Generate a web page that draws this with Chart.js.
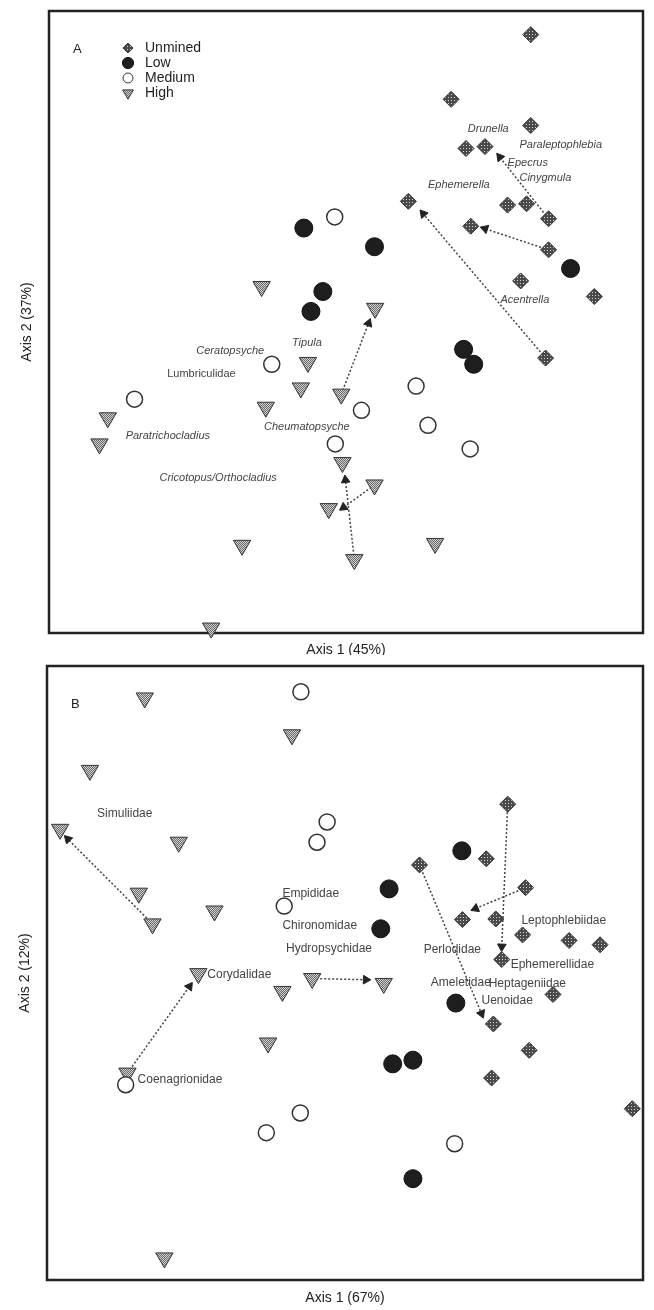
<!DOCTYPE html>
<html>
<head>
<meta charset="utf-8">
<script src="https://cdn.jsdelivr.net/npm/chart.js@4.4.0/dist/chart.umd.min.js"></script>
<style>
  body { margin: 0; background: #fff; }
  #wrap { position: relative; width: 654px; height: 1310px; background: #fff; }
  canvas { position: absolute; left: 0; }
  #panel-a { top: 0; }
  #panel-b { top: 655px; }
</style>
</head>
<body>
<div id="wrap">
  <canvas id="panel-a" width="654" height="655"></canvas>
  <canvas id="panel-b" width="654" height="655"></canvas>
</div>
<script>
// ordination scores (both axes scaled 0-100 over the frame)
const unminedA = [[81.1, 96.2], [67.7, 85.8], [81.1, 81.6], [70.2, 77.9], [73.4, 78.2], [60.5, 69.4], [77.2, 68.8], [80.4, 69.0], [84.1, 66.6], [71.0, 65.4], [84.1, 61.6], [79.4, 56.6], [91.8, 54.1], [83.6, 44.2]];
const lowA = [[42.9, 65.1], [46.1, 54.9], [44.1, 51.7], [54.8, 62.1], [87.8, 58.6], [69.8, 45.6], [71.5, 43.2]];
const mediumA = [[48.1, 66.9], [14.4, 37.6], [37.5, 43.2], [48.2, 30.4], [52.6, 35.8], [61.8, 39.7], [63.8, 33.4], [70.9, 29.6]];
const highA = [[35.8, 55.7], [54.9, 52.2], [43.6, 43.5], [42.4, 39.4], [36.5, 36.3], [49.2, 38.4], [49.4, 27.4], [54.8, 23.8], [47.1, 20.0], [51.4, 11.8], [32.5, 14.1], [9.9, 34.6], [8.5, 30.4], [27.3, 0.8], [65.0, 14.4]];
// arrows: [fromX, fromY, toX, toY]
const arrowsA = [[84.1, 66.6, 75.9, 76.5], [84.1, 61.6, 73.4, 65.0], [83.6, 44.2, 63.0, 67.4], [49.2, 38.4, 53.8, 49.8], [51.4, 11.8, 49.9, 24.6], [54.8, 23.8, 49.6, 20.2]];
const taxaA = ["Drunella", "Paraleptophlebia", "Epecrus", "Cinygmula", "Ephemerella", "Acentrella", "Tipula", "Ceratopsyche", "Lumbriculidae", "Paratrichocladius", "Cheumatopsyche", "Cricotopus/Orthocladius"];
const taxaAPos = [[70.5, 81.0], [79.2, 78.4], [77.2, 75.5], [79.2, 73.1], [63.8, 72.0], [76.0, 53.6], [40.9, 46.6], [24.8, 45.3], [19.9, 41.6], [12.9, 31.7], [36.2, 33.1], [18.6, 25.0]];
const taxaAItalic = [true, true, true, true, true, true, true, true, false, true, true, true];

const unminedB = [[77.3, 77.5], [73.7, 68.6], [62.5, 67.6], [80.3, 63.9], [69.7, 58.7], [75.3, 58.8], [79.8, 56.2], [87.6, 55.3], [92.8, 54.6], [76.3, 52.2], [84.9, 46.5], [74.9, 41.7], [80.9, 37.4], [74.6, 32.9], [98.2, 27.9]];
const lowB = [[69.6, 69.9], [57.4, 63.7], [56.0, 57.2], [68.6, 45.1], [58.0, 35.2], [61.4, 35.8], [61.4, 16.5]];
const mediumB = [[42.6, 95.8], [47.0, 74.6], [45.3, 71.3], [39.8, 60.9], [13.2, 31.8], [42.5, 27.2], [36.8, 24.0], [68.4, 22.2]];
const highB = [[16.4, 94.8], [41.1, 88.8], [7.2, 83.0], [2.2, 73.4], [22.1, 71.3], [15.4, 63.0], [17.7, 58.0], [28.1, 60.1], [25.4, 49.9], [39.5, 47.0], [44.5, 49.1], [56.5, 48.3], [37.1, 38.6], [13.5, 33.7], [19.7, 3.6]];
const arrowsB = [[17.7, 58.0, 3.5, 71.8], [13.5, 33.7, 23.9, 47.8], [44.5, 49.1, 53.5, 48.9], [77.3, 77.5, 76.3, 54.3], [80.3, 63.9, 71.9, 60.5], [62.5, 67.6, 72.9, 43.4]];
const taxaB = ["Simuliidae", "Empididae", "Chironomidae", "Hydropsychidae", "Corydalidae", "Coenagrionidae", "Leptophlebiidae", "Perlodidae", "Ephemerellidae", "Ameletidae", "Heptageniidae", "Uenoidae"];
const taxaBPos = [[8.4, 76.0], [39.5, 62.9], [39.5, 57.7], [40.1, 54.0], [26.9, 49.8], [15.2, 32.7], [79.6, 58.5], [63.2, 53.8], [77.8, 51.4], [64.4, 48.5], [74.1, 48.3], [72.9, 45.5]];
const taxaBItalic = taxaB.map(() => false);

const groupNames = ["Unmined", "Low", "Medium", "High"];
const FONT = '"Liberation Sans", Arial, sans-serif';

function makePattern(size, bg, fg, dots) {
  let c = document.createElement("canvas");
  c.width = size;
  c.height = size;
  let g = c.getContext("2d");
  g.fillStyle = bg;
  g.fillRect(0, 0, size, size);
  g.fillStyle = fg;
  dots.forEach(([px, py]) => g.fillRect(px, py, 1, 1));
  return g.createPattern(c, "repeat");
}

const hatch = makePattern(3, "#4a4a4a", "#d8d8d8", [[1, 1]]);
const stipple = makePattern(2, "#d0d0d0", "#6a6a6a", [[0, 0], [1, 1]]);

const groupStyles = [
  { pointStyle: "rectRot", pointRadius: 8, backgroundColor: hatch, borderColor: "#333", pointBorderWidth: 1, rotation: 0 },
  { pointStyle: "circle", pointRadius: 9, backgroundColor: "#1e1e1e", borderColor: "#111", pointBorderWidth: 1, rotation: 0 },
  { pointStyle: "circle", pointRadius: 8, backgroundColor: "#fff", borderColor: "#333", pointBorderWidth: 1.5, rotation: 0 },
  { pointStyle: "triangle", pointRadius: 10, backgroundColor: stipple, borderColor: "#333", pointBorderWidth: 1, rotation: 180 },
];

const pts = (arr) => arr.map(([x, y]) => ({ x, y }));

function makeDecor(cfg) {
  return {
    id: "decor",
    beforeDatasetsDraw(chart) {
      let { ctx, chartArea: a } = chart;
      ctx.save();
      ctx.strokeStyle = "#222";
      ctx.lineWidth = 2.5;
      ctx.strokeRect(a.left, a.top, a.right - a.left, a.bottom - a.top);
      ctx.restore();
    },
    afterDatasetsDraw(chart) {
      let { ctx, chartArea: a, scales } = chart;
      ctx.save();
      ctx.textBaseline = "middle";
      ctx.fillStyle = "#444";
      cfg.names.forEach((name, i) => {
        ctx.font = `${cfg.italic[i] ? "italic " : ""}${cfg.labelSize}px ${FONT}`;
        ctx.fillText(name, scales.x.getPixelForValue(cfg.pos[i][0]), scales.y.getPixelForValue(cfg.pos[i][1]));
      });

      // panel letter
      ctx.fillStyle = "#222";
      ctx.font = `13px ${FONT}`;
      ctx.fillText(cfg.letter, a.left + 24, a.top + 38);

      // legend (panel A only)
      if (cfg.legend) {
        groupStyles.forEach((s, i) => {
          let ly = a.top + 37 + i * 15;
          ctx.fillStyle = s.backgroundColor;
          ctx.strokeStyle = s.borderColor;
          ctx.lineWidth = 1;
          Chart.helpers.drawPoint(ctx, { pointStyle: s.pointStyle, radius: s.pointRadius * 0.62, rotation: s.rotation, borderWidth: 1 }, a.left + 79, ly);
          ctx.fillStyle = "#222";
          ctx.font = `14px ${FONT}`;
          ctx.fillText(groupNames[i], a.left + 96, ly);
        });
      }

      // axis titles
      ctx.fillStyle = "#222";
      ctx.font = `14px ${FONT}`;
      ctx.textAlign = "center";
      ctx.fillText(cfg.xTitle, (a.left + a.right) / 2, a.bottom + cfg.xTitleGap);
      ctx.translate(a.left - 22, (a.top + a.bottom) / 2);
      ctx.rotate(-Math.PI / 2);
      ctx.fillText(cfg.yTitle, 0, 0);
      ctx.restore();
    },
  };
}

function makePanel(canvasId, groups, arrows, padding, decor) {
  let datasets = groups.map((g, i) => ({
    label: groupNames[i],
    data: pts(g),
    pointStyle: groupStyles[i].pointStyle,
    pointRadius: groupStyles[i].pointRadius,
    pointBackgroundColor: groupStyles[i].backgroundColor,
    pointBorderColor: groupStyles[i].borderColor,
    pointBorderWidth: groupStyles[i].pointBorderWidth,
    pointRotation: groupStyles[i].rotation,
    clip: false,
    order: 0,
  }));

  arrows.forEach((ar) => {
    datasets.push({
      label: "arrow",
      data: [{ x: ar[0], y: ar[1] }, { x: ar[2], y: ar[3] }],
      showLine: true,
      borderColor: "#444",
      borderWidth: 1.5,
      borderDash: [2, 2],
      pointRadius: 0,
      clip: false,
      order: 3,
    });
  });

  datasets.push({
    label: "heads",
    data: arrows.map((ar) => ({ x: ar[2], y: ar[3] })),
    pointStyle: "triangle",
    pointRadius: 5,
    pointBackgroundColor: "#222",
    pointBorderColor: "#222",
    pointBorderWidth: 1,
    pointRotation: (ctx) => {
      let ar = arrows[ctx.dataIndex];
      let xs = ctx.chart.scales.x;
      let ys = ctx.chart.scales.y;
      if (!ar || !xs || !ys) return 0;
      let dx = xs.getPixelForValue(ar[2]) - xs.getPixelForValue(ar[0]);
      let dy = ys.getPixelForValue(ar[3]) - ys.getPixelForValue(ar[1]);
      return (Math.atan2(dy, dx) * 180) / Math.PI + 90;
    },
    clip: false,
    order: 1,
  });

  return new Chart(canvasId, {
    type: "scatter",
    data: { datasets },
    options: {
      responsive: false,
      animation: false,
      layout: { padding },
      plugins: {
        legend: { display: false },
        tooltip: { enabled: false },
      },
      scales: {
        x: { type: "linear", min: 0, max: 100, display: false },
        y: { type: "linear", min: 0, max: 100, display: false },
      },
    },
    plugins: [makeDecor(decor)],
  });
}

makePanel("panel-a", [unminedA, lowA, mediumA, highA], arrowsA, { left: 49, top: 8, right: 8, bottom: 22 }, {
  names: taxaA, pos: taxaAPos, italic: taxaAItalic, labelSize: 11, letter: "A", legend: true,
  xTitle: "Axis 1 (45%)", xTitleGap: 17, yTitle: "Axis 2 (37%)",
});

makePanel("panel-b", [unminedB, lowB, mediumB, highB], arrowsB, { left: 47, top: 8, right: 9, bottom: 30 }, {
  names: taxaB, pos: taxaBPos, italic: taxaBItalic, labelSize: 12, letter: "B", legend: false,
  xTitle: "Axis 1 (67%)", xTitleGap: 18, yTitle: "Axis 2 (12%)",
});
</script>
</body>
</html>
